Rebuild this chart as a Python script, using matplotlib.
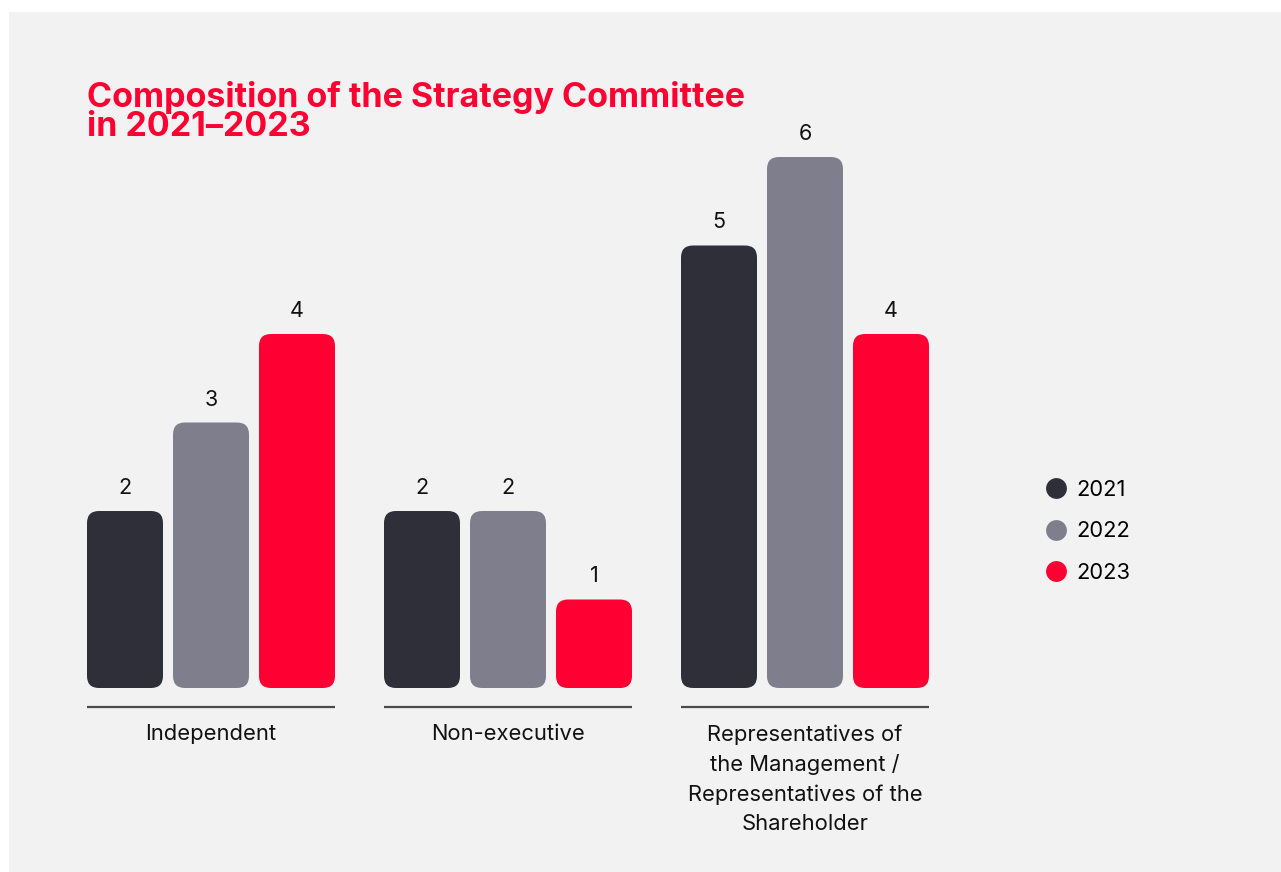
import matplotlib.pyplot as plt
import numpy as np
from matplotlib.patches import FancyBboxPatch, Rectangle
from matplotlib.lines import Line2D

categories = ['Independent', 'Non-executive',
              'Representatives of\nthe Management /\nRepresentatives of the\nShareholder']
years = ['2021', '2022', '2023']
values = {
    '2021': [2, 2, 5],
    '2022': [3, 2, 6],
    '2023': [4, 1, 4],
}
colors = {'2021': '#2e2f38', '2022': '#7f7e8c', '2023': '#ff0033'}

W, H = 1281, 872
fig = plt.figure(figsize=(W / 100, H / 100), dpi=100)
fig.patch.set_facecolor('white')
fig.add_artist(Rectangle((9 / W, 0), 1 - 9 / W, 1 - 12 / H, transform=fig.transFigure,
                         facecolor='#f2f2f2', edgecolor='none', zorder=-5))

font = 'Inter'
plt.rcParams['font.family'] = [font, 'DejaVu Sans']

# axes: one x unit = 297 px, one y unit = 88.5 px, baseline at y=688 px
ux, uy = 297, 88.5
ax = fig.add_axes([62.5 / W, (H - 688) / H, 3 * ux / W, 7 * uy / H])
ax.set_xlim(-0.5, 2.5)
ax.set_ylim(0, 7)
ax.axis('off')
ax.patch.set_alpha(0)
ax.set_zorder(2)

bw = 76 / ux
pitch = 86 / ux
r = 12 / ux
x = np.arange(len(categories))
for i, y in enumerate(years):
    for xc, v in zip(x + (i - 1) * pitch, values[y]):
        ax.add_patch(FancyBboxPatch((xc - bw / 2, 0), bw, v,
                                    boxstyle=f'round,pad=0,rounding_size={r}',
                                    mutation_aspect=ux / uy,
                                    facecolor=colors[y], edgecolor='none'))
        ax.annotate(str(v), (xc, v), xytext=(0, 13), textcoords='offset pixels',
                    ha='center', va='bottom', fontsize=15.5, color='#111111')

for xc, cat in zip(x, categories):
    ax.plot([xc - pitch - bw / 2, xc + pitch + bw / 2], [-19 / uy, -19 / uy],
            color='#4a4a4a', lw=1.6, clip_on=False, solid_capstyle='butt')
    ax.text(xc, -36 / uy, cat, ha='center', va='top', fontsize=15.8, color='#111111',
            linespacing=1.57)

fig.text(87 / W, 1 - 81 / H, 'Composition of the Strategy Committee\nin 2021\u20132023',
         ha='left', va='top', fontsize=24.5, fontweight='bold', color='#ff0033',
         linespacing=0.88)

handles = [Line2D([], [], marker='o', linestyle='none', markersize=15,
                  markerfacecolor=colors[y], markeredgecolor='none') for y in years]
fig.legend(handles, years, loc='upper left', bbox_to_anchor=(1032 / W, 1 - 469 / H),
           frameon=False, fontsize=15.8, labelspacing=0.98, handletextpad=0.35,
           handlelength=1.15, borderpad=0)

fig.savefig('out.png', dpi=100, facecolor=fig.get_facecolor())
